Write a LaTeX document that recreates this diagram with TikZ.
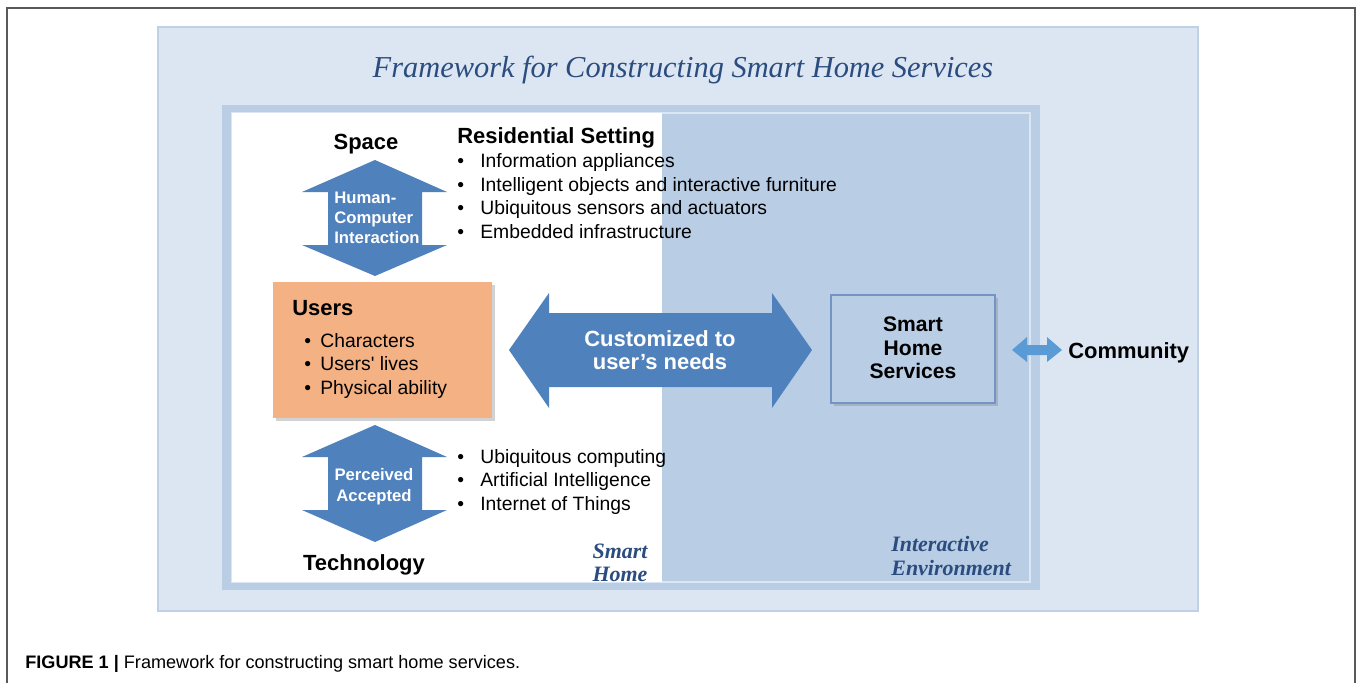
\documentclass[tikz,border=0pt]{standalone}
\usepackage{fontspec}
\setmainfont{Liberation Sans}
\newfontfamily\serifit{Liberation Serif}
\usetikzlibrary{shadows}

\definecolor{paneBlue}{HTML}{DCE6F2}
\definecolor{paneEdge}{HTML}{BFD0E7}
\definecolor{envBlue}{HTML}{B9CDE5}
\definecolor{arrowBlue}{HTML}{4F81BD}
\definecolor{smallBlue}{HTML}{5B9BD5}
\definecolor{userOrange}{HTML}{F4B183}
\definecolor{titleBlue}{HTML}{2B4C7E}
\definecolor{boxEdge}{HTML}{7394C4}

\begin{document}
\begin{tikzpicture}[x=0.02cm,y=-0.02cm,
	lbl/.style={font=\fontsize{12.5}{15}\selectfont\bfseries},
	itm/.style={anchor=base west,inner sep=0pt,font=\fontsize{11}{13}\selectfont},
	inarrow/.style={text=white,font=\fontsize{9.5}{11.5}\selectfont\bfseries},
	area/.style={text=titleBlue,font=\serifit\bfseries\itshape\fontsize{12.5}{13.3}\selectfont},
	shade/.style={drop shadow={shadow xshift=1.5pt,shadow yshift=-1.5pt,opacity=0.35}}]
	\useasboundingbox (0,0) rectangle (1357,683);
	% page frame and caption
	\draw[line width=1pt, black!65] (7,683)--(7,8)--(1355,8)--(1355,683);
	\node[anchor=base west, inner sep=0pt, font=\fontsize{10.3}{12}\selectfont] (caption) at (25,668)
		{\textbf{FIGURE 1 |} Framework for constructing smart home services.};
	% panels
	\draw[fill=paneBlue, draw=paneEdge, line width=1.2pt] (158,27) rectangle (1198,611);
	\node[text=titleBlue, font=\serifit\itshape\fontsize{17.3}{20}\selectfont] (title) at (683,70)
		{Framework for Constructing Smart Home Services};
	\fill[envBlue] (222,105) rectangle (1040,590);
	\draw[fill=envBlue, draw=paneBlue, line width=1pt] (232,113) rectangle (1030,582);
	\fill[white] (232,113) rectangle (662,582);
	\node[area, align=center] (smarthome) at (620,563) {Smart\\Home};
	\node[area, align=left, anchor=west, inner sep=0pt] (interenv) at (891,556) {Interactive\\Environment};
	% space and residential setting
	\node[lbl, anchor=base] (space) at (366,149) {Space};
	\fill[arrowBlue] (375,160)--(447,192)--(422,192)--(422,245)--(447,245)--(375,276)
		--(302,245)--(328,245)--(328,192)--(302,192)--cycle;
	\node[inarrow, align=left, font=\fontsize{9.5}{11.4}\selectfont\bfseries] (hci) at (377,218) {Human-\\Computer\\Interaction};
	\node[lbl, anchor=base west, inner sep=0pt] (setting) at (457,143) {Residential Setting};
	\foreach \txt [count=\i] in {Information appliances, Intelligent objects and interactive furniture,
		Ubiquitous sensors and actuators, Embedded infrastructure}
		{
		\node[itm] (sdot\i) at (457,144+23.6*\i) {\textbullet};
		\node[itm] (sitem\i) at (480,144+23.6*\i) {\txt};
		}
	% users
	\draw[fill=userOrange, draw=none, shade] (273,282) rectangle (492,418);
	\node[lbl, anchor=base west, inner sep=0pt] (users) at (292,315) {Users};
	\foreach \txt [count=\i] in {Characters, Users\textquotesingle{} lives, Physical ability}
		{
		\node[itm] (udot\i) at (304,323.5+23.6*\i) {\textbullet};
		\node[itm] (uitem\i) at (320,323.5+23.6*\i) {\txt};
		}
	% customized arrow
	\fill[arrowBlue] (509,350)--(549,293)--(549,313)--(772,313)--(772,293)--(812,350)
		--(772,408)--(772,387)--(549,387)--(549,408)--cycle;
	\node[inarrow, align=center, font=\fontsize{12.5}{13.2}\selectfont\bfseries] (custom) at (660,350) {Customized to\\user’s needs};
	% smart home services
	\draw[fill=envBlue, draw=boxEdge, line width=0.8pt, shade] (831,295) rectangle (995,403);
	\node[lbl, align=center, font=\fontsize{12}{13.3}\selectfont\bfseries] (sms) at (913,348) {Smart\\Home\\Services};
	\fill[smallBlue] (1012,350)--(1027,337)--(1027,345)--(1047,345)--(1047,337)--(1062,350)
		--(1047,362)--(1047,355)--(1027,355)--(1027,362)--cycle;
	\node[lbl, anchor=base west, inner sep=0pt] (community) at (1068,358) {Community};
	% technology
	\fill[arrowBlue] (375,425)--(447,457)--(422,457)--(422,510)--(447,510)--(375,542)
		--(302,510)--(328,510)--(328,457)--(302,457)--cycle;
	\node[inarrow, align=center, font=\fontsize{9.5}{12}\selectfont\bfseries] (perceived) at (374,487) {Perceived\\Accepted};
	\foreach \txt [count=\i] in {Ubiquitous computing, Artificial Intelligence, Internet of Things}
		{
		\node[itm] (tdot\i) at (457,439.5+23.6*\i) {\textbullet};
		\node[itm] (titem\i) at (480,439.5+23.6*\i) {\txt};
		}
	\node[lbl, anchor=base] (tech) at (364,570) {Technology};
\end{tikzpicture}
\end{document}
